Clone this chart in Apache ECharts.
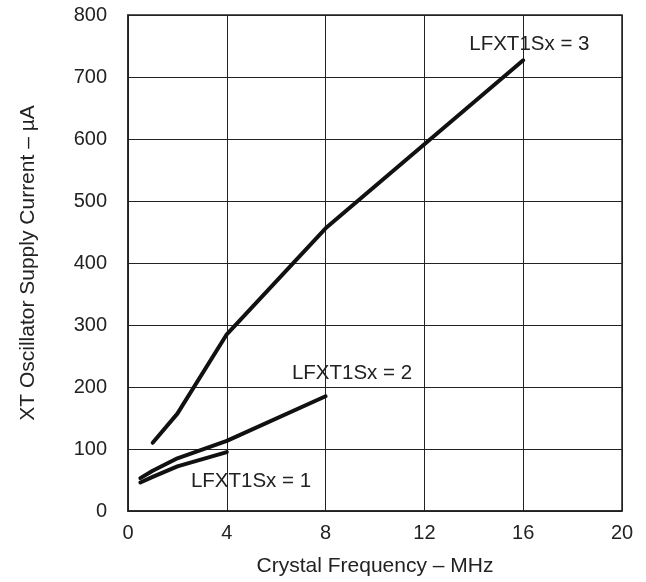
<!DOCTYPE html>
<html><head><meta charset="utf-8">
<script src="https://cdn.jsdelivr.net/npm/echarts@6/dist/echarts.min.js"></script>
<style>html,body{margin:0;padding:0;background:#fff}#c{width:646px;height:582px}</style>
</head><body><div id="c"></div>
<script>
const xTicks = [0, 4, 8, 12, 16, 20];
const yTicks = [0, 100, 200, 300, 400, 500, 600, 700, 800];
const s1 = [[0.5, 46], [1, 55], [2, 72], [4, 95]];
const s2 = [[0.5, 53], [1, 65], [2, 85], [4, 113], [8, 185]];
const s3 = [[1, 110], [2, 157], [4, 285], [8, 456], [16, 727]];
const labels = [
  { text: 'LFXT1Sx = 1', at: [4.98, 48] },
  { text: 'LFXT1Sx = 2', at: [9.07, 222] },
  { text: 'LFXT1Sx = 3', at: [16.25, 753] }
];
const FONT = 'Liberation Sans, Arial, sans-serif';
const chart = echarts.init(document.getElementById('c'));
function mk(data, lab) {
  return {
    type: 'line', data: data, symbol: 'none', smooth: false,
    lineStyle: { color: '#111', width: 4, cap: 'round', join: 'round' },
    markPoint: {
      symbol: 'circle', symbolSize: 0, silent: true,
      data: [{ coord: lab.at, value: lab.text }],
      label: { show: true, position: 'inside', formatter: lab.text, color: '#222', fontSize: 20.5, fontFamily: FONT }
    }
  };
}
chart.setOption({
  animation: false,
  grid: { left: 128, right: 24, top: 15, bottom: 70, show: true, borderColor: '#222', borderWidth: 1.5 },
  xAxis: {
    type: 'value', min: xTicks[0], max: xTicks[xTicks.length - 1], interval: 4,
    name: 'Crystal Frequency – MHz', nameLocation: 'middle', nameGap: 45,
    nameTextStyle: { color: '#222', fontSize: 21, fontFamily: FONT },
    axisLine: { show: true, lineStyle: { color: '#222', width: 1.5 } },
    axisTick: { show: false },
    axisLabel: { color: '#222', fontSize: 20, fontFamily: FONT, margin: 12 },
    splitLine: { show: true, lineStyle: { color: '#222', width: 1 } }
  },
  yAxis: {
    type: 'value', min: yTicks[0], max: yTicks[yTicks.length - 1], interval: 100,
    name: 'XT Oscillator Supply Current – µA', nameLocation: 'middle', nameGap: 89,
    nameTextStyle: { color: '#222', fontSize: 21, fontFamily: FONT },
    axisLine: { show: true, lineStyle: { color: '#222', width: 1.5 } },
    axisTick: { show: false },
    axisLabel: { color: '#222', fontSize: 20, fontFamily: FONT, margin: 21 },
    splitLine: { show: true, lineStyle: { color: '#222', width: 1 } }
  },
  series: [mk(s1, labels[0]), mk(s2, labels[1]), mk(s3, labels[2])]
});
</script></body></html>
